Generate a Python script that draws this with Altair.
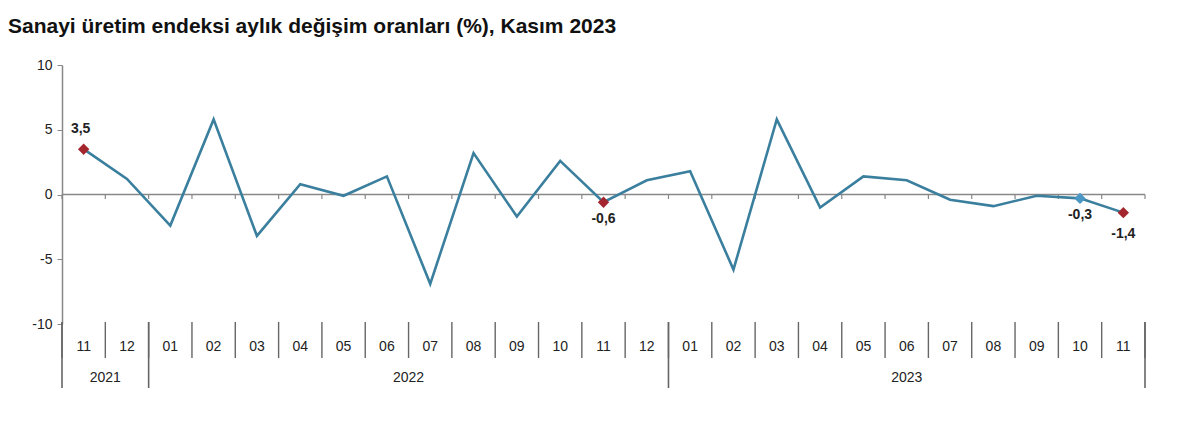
import altair as alt
import pandas as pd

months = ["11", "12", "01", "02", "03", "04", "05", "06", "07", "08", "09", "10", "11",
          "12", "01", "02", "03", "04", "05", "06", "07", "08", "09", "10", "11"]
years = ["2021"] * 2 + ["2022"] * 12 + ["2023"] * 11
values = [3.5, 1.2, -2.4, 5.8, -3.2, 0.8, -0.1, 1.4, -6.9, 3.2, -1.7, 2.6, -0.6,
          1.1, 1.8, -5.8, 5.8, -1.0, 1.4, 1.1, -0.4, -0.9, -0.1, -0.3, -1.4]
red_idx = [0, 12, 24]
blue_idx = [23]
labels_above = {0: "3,5"}
labels_below = {12: "-0,6", 23: "-0,3"}
labels_below2 = {24: "-1,4"}
title_text = "Sanayi üretim endeksi aylık değişim oranları (%), Kasım 2023"
y_ticks = [-10, -5, 0, 5, 10]

W, H = 1083, 259
FONT = "Liberation Sans"

n = len(values)
df = pd.DataFrame({"i": [k + 0.5 for k in range(n)], "v": values, "m": months, "yr": years})

bounds = pd.DataFrame({"b": list(range(n + 1)), "z": [0] * (n + 1)})
zdf = pd.DataFrame({"x0": [0], "x1": [n], "z": [0]})
year_b = [0] + [k for k in range(1, n) if years[k] != years[k - 1]] + [n]
ybounds = pd.DataFrame({"b": year_b})
year_names = []
year_centers = []
for a, b in zip(year_b[:-1], year_b[1:]):
    year_names.append(years[a])
    year_centers.append((a + b) / 2)
ydf = pd.DataFrame({"c": year_centers, "yn": year_names})

xs = alt.Scale(domain=[0, n], nice=False, zero=False)
ys = alt.Scale(domain=[-10, 10], nice=False)
yaxis = alt.Axis(values=y_ticks, grid=False, title=None,
                 domainColor="#888", tickColor="#888", tickSize=5,
                 labelFontSize=14, labelColor="#222", labelPadding=5,
                 labelFont=FONT, domainWidth=1.5,
                 labelExpr="'' + datum.value")


def X(f):
    return alt.X(f, scale=xs, axis=None)


def Y(f):
    return alt.Y(f, scale=ys, axis=yaxis)


line = alt.Chart(df).mark_line(color="#3b7f9e", strokeWidth=2.6).encode(
    x=X("i:Q"), y=Y("v:Q"),
)

zero = alt.Chart(zdf).mark_rule(color="#888", strokeWidth=1.5).encode(
    x=X("x0:Q"), x2="x1:Q", y=Y("z:Q")
)
zticks = alt.Chart(bounds).mark_rule(color="#888", strokeWidth=1.2).encode(
    x=X("b:Q"), y=Y("z:Q"), y2=alt.value(H / 2 + 4.5)
)

msep = alt.Chart(bounds).mark_rule(color="#666", strokeWidth=1.4).encode(
    x=X("b:Q"), y=alt.value(H - 2), y2=alt.value(H + 34)
)
ysep = alt.Chart(ybounds).mark_rule(color="#666", strokeWidth=1.6).encode(
    x=X("b:Q"), y=alt.value(H - 2), y2=alt.value(H + 64)
)
mlab = alt.Chart(df).mark_text(font=FONT, fontSize=14, color="#222", baseline="middle").encode(
    x=X("i:Q"), y=alt.value(H + 23), text="m:N"
)
ylab = alt.Chart(ydf).mark_text(font=FONT, fontSize=14, color="#222", baseline="middle").encode(
    x=X("c:Q"), y=alt.value(H + 54), text="yn:N"
)

red = alt.Chart(df.iloc[red_idx]).mark_point(shape="diamond", filled=True, size=130,
                                             color="#a3262f", opacity=1).encode(
    x=X("i:Q"), y=Y("v:Q")
)
blue = alt.Chart(df.iloc[blue_idx]).mark_point(shape="diamond", filled=True, size=130,
                                               color="#4a97c6", opacity=1).encode(
    x=X("i:Q"), y=Y("v:Q")
)


def lab_layer(d, dy, dx=0):
    sub = df.iloc[list(d.keys())].copy()
    sub["t"] = list(d.values())
    return alt.Chart(sub).mark_text(font=FONT, fontSize=14, fontWeight="bold", color="#222",
                                    dy=dy, dx=dx).encode(
        x=X("i:Q"), y=Y("v:Q"), text="t:N"
    )


chart = alt.layer(
    zero, zticks, line, red, blue,
    lab_layer(labels_above, -20, -3), lab_layer(labels_below, 17), lab_layer(labels_below2, 21),
    msep, ysep, mlab, ylab,
).properties(
    width=W, height=H,
    autosize=alt.AutoSizeParams(type="none"),
    padding={"left": 54, "top": 57, "right": 40, "bottom": 110},
    title=alt.TitleParams(title_text, anchor="start", frame="group", dx=-54, dy=10, font=FONT,
                          fontSize=21, fontWeight="bold", color="#111", offset=10,
                          baseline="bottom"),
).configure_view(stroke=None)

chart.save("out.html", embed_options={"renderer": "svg", "actions": False})
